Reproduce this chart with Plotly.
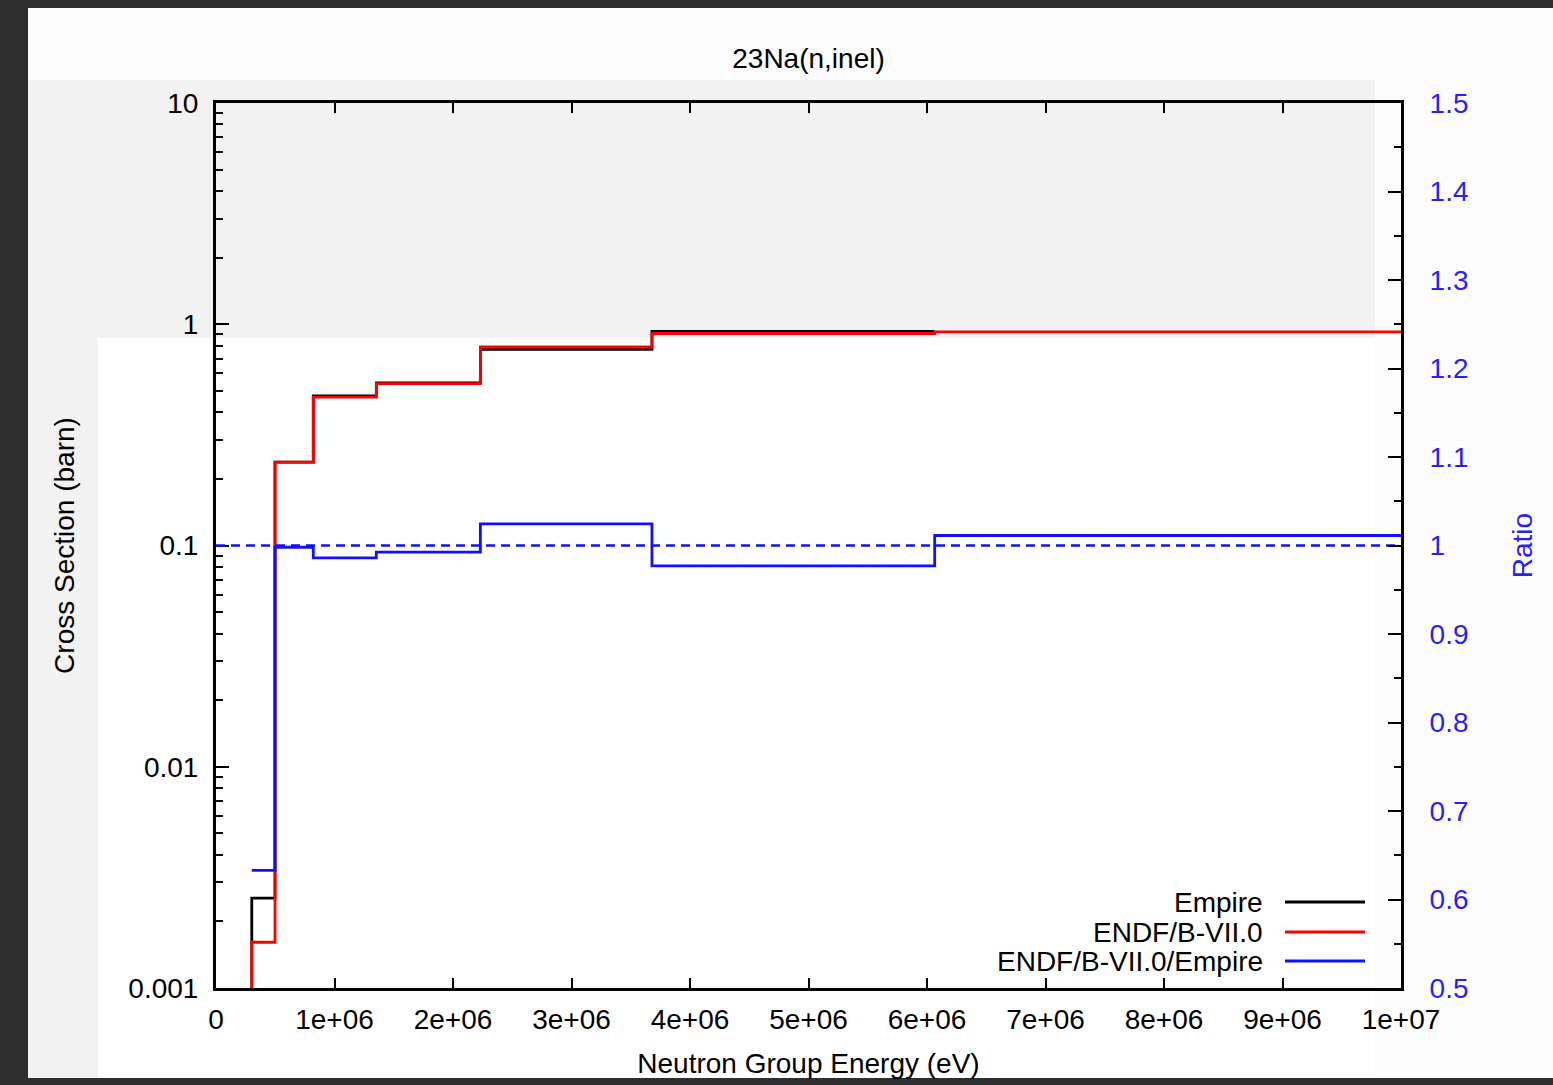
import plotly.graph_objects as go

# ---------------- data ----------------
# group boundaries (eV)
edges_black = [1.83e5, 3.02e5, 4.98e5, 8.21e5, 1.353e6, 2.231e6, 3.679e6, 6.065e6]
xs_black = [1e-6, 0.00255, 0.238, 0.475, 0.543, 0.770, 0.929]

edges_red = [1.83e5, 3.02e5, 4.98e5, 8.21e5, 1.353e6, 2.231e6, 3.679e6, 6.065e6, 1.0e7]
xs_red = [1e-6, 0.00161, 0.238, 0.468, 0.539, 0.789, 0.908, 0.923]

edges_ratio = [3.02e5, 4.98e5, 8.21e5, 1.353e6, 2.231e6, 3.679e6, 6.065e6, 1.0e7]
ratio = [0.633, 0.998, 0.986, 0.9925, 1.0245, 0.977, 1.0113]

ref_x = [0, 1.0e7]
ref_y = [1.0, 1.0]

x_tickvals = [0, 1e6, 2e6, 3e6, 4e6, 5e6, 6e6, 7e6, 8e6, 9e6, 1e7]
x_ticktext = ["0", "1e+06", "2e+06", "3e+06", "4e+06", "5e+06", "6e+06",
              "7e+06", "8e+06", "9e+06", "1e+07"]
y_tickvals = [0.001, 0.01, 0.1, 1, 10]
y_ticktext = ["0.001", "0.01", "0.1", "1", "10"]
y2_tickvals = [0.5, 0.6, 0.7, 0.8, 0.9, 1.0, 1.1, 1.2, 1.3, 1.4, 1.5]
y2_ticktext = ["0.5", "0.6", "0.7", "0.8", "0.9", "1", "1.1", "1.2", "1.3", "1.4", "1.5"]

legend_names = ["Empire", "ENDF/B-VII.0", "ENDF/B-VII.0/Empire"]
legend_colors = ["black", "red", "#1010ff"]

# ---------------- layout helpers ----------------
W, H = 1553, 1085
L, R, T, B = 216, 1401, 103, 988


def px(xp):
    return (xp - L) / (R - L)


def py(yp):
    return (B - yp) / (B - T)


FONT = "Liberation Sans, Arial, sans-serif"
FS = 28
BLUE_TXT = "#2a1ff5"
LW = 2.8

fig = go.Figure()


def steps(edges, vals):
    return list(edges), list(vals) + [vals[-1]]


ex, ey = steps(edges_black, xs_black)
fig.add_trace(go.Scatter(x=ex, y=ey, mode="lines", line_shape="hv",
                         line=dict(color="black", width=LW), name=legend_names[0],
                         yaxis="y"))
ex, ey = steps(edges_red, xs_red)
fig.add_trace(go.Scatter(x=ex, y=ey, mode="lines", line_shape="hv",
                         line=dict(color="red", width=LW), name=legend_names[1],
                         yaxis="y"))
ex, ey = steps(edges_ratio, ratio)
fig.add_trace(go.Scatter(x=ex, y=ey, mode="lines", line_shape="hv",
                         line=dict(color="#1010ff", width=LW), name=legend_names[2],
                         yaxis="y2"))
fig.add_trace(go.Scatter(x=ref_x, y=ref_y, mode="lines",
                         line=dict(color="#1010ff", width=2.5, dash="9px,6px"),
                         showlegend=False, yaxis="y2"))

minor_log = [m * 10 ** e for e in range(-3, 1) for m in range(2, 10)]

fig.update_layout(
    width=W, height=H,
    margin=dict(l=L, r=W - R, t=T, b=H - B, autoexpand=False),
    paper_bgcolor="white",
    plot_bgcolor="rgba(0,0,0,0)",
    showlegend=False,
    font=dict(family=FONT, size=FS, color="black"),
    title=dict(text="23Na(n,inel)", x=px(808.5), xref="paper", xanchor="center",
               y=1 - 58 / H, yref="container", yanchor="middle",
               font=dict(family=FONT, size=FS, color="black")),
    xaxis=dict(range=[0, 1e7], tickmode="array", tickvals=x_tickvals, ticktext=x_ticktext,
               ticks="inside", ticklen=10, tickwidth=2.2, tickcolor="black",
               showline=True, linecolor="black", linewidth=3, mirror="ticks",
               showgrid=False, zeroline=False, ticklabelstandoff=4,
               layer="below traces",
               tickfont=dict(family=FONT, size=FS, color="black"),
               title=dict(text="Neutron Group Energy (eV)", standoff=20,
                          font=dict(family=FONT, size=FS, color="black"))),
    yaxis=dict(type="log", range=[-3, 1], tickmode="array", tickvals=y_tickvals,
               ticktext=y_ticktext, ticks="inside", ticklen=13, tickwidth=2.2,
               tickcolor="black", showline=True, linecolor="black", linewidth=3,
               showgrid=False, zeroline=False, ticklabelstandoff=9,
               layer="below traces",
               minor=dict(tickvals=minor_log, ticks="inside", ticklen=7, tickwidth=2.2,
                          tickcolor="black", showgrid=False),
               tickfont=dict(family=FONT, size=FS, color="black"),
               title=dict(text="Cross Section (barn)", standoff=46,
                          font=dict(family=FONT, size=FS, color="black"))),
    yaxis2=dict(overlaying="y", side="right", range=[0.5, 1.5], tickmode="array",
                tickvals=y2_tickvals, ticktext=y2_ticktext,
                ticks="inside", ticklen=13, tickwidth=2.2, tickcolor="black",
                showline=True, linecolor="black", linewidth=3,
                showgrid=False, zeroline=False, ticklabelstandoff=20,
                minor=dict(dtick=0.05, ticks="inside", ticklen=7, tickwidth=2.2,
                           tickcolor="black", showgrid=False),
                tickfont=dict(family=FONT, size=FS, color=BLUE_TXT),
                title=dict(text="Ratio", standoff=45,
                           font=dict(family=FONT, size=FS, color=BLUE_TXT))),
)

# background artefacts of the screenshot
shapes = []
bg = [
    (28, 8, 1553, 80, "#fbfbfb"),
    (28, 80, 1375, 338, "#f2f2f2"),
    (28, 338, 98, 1078, "#f2f2f2"),
    (1375, 80, 1553, 1078, "#fcfcfc"),
    (0, 0, 28, 1085, "#2e2e2e"),
    (0, 0, 1553, 8, "#2e2e2e"),
    (0, 1078, 1553, 1085, "#2e2e2e"),
]
for x0, y0, x1, y1, c in bg:
    shapes.append(dict(type="rect", xref="paper", yref="paper",
                       x0=px(x0), x1=px(x1), y0=py(y0), y1=py(y1),
                       fillcolor=c, line=dict(width=0), layer="below"))

# legend (text on the left, line sample on the right, as in gnuplot)
annotations = []
rows = [902, 932, 961]
for name, col, yr in zip(legend_names, legend_colors, rows):
    annotations.append(dict(text=name, xref="paper", yref="paper", x=px(1265), y=py(yr),
                            xanchor="right", yanchor="middle", showarrow=False,
                            font=dict(family=FONT, size=FS, color="black")))
    shapes.append(dict(type="line", xref="paper", yref="paper",
                       x0=px(1285), x1=px(1365), y0=py(yr), y1=py(yr),
                       line=dict(color=col, width=LW), layer="above"))

fig.update_layout(shapes=shapes, annotations=annotations)

fig.write_html("out.html", config={"displayModeBar": False},
               post_script="document.body.style.margin='0';")
